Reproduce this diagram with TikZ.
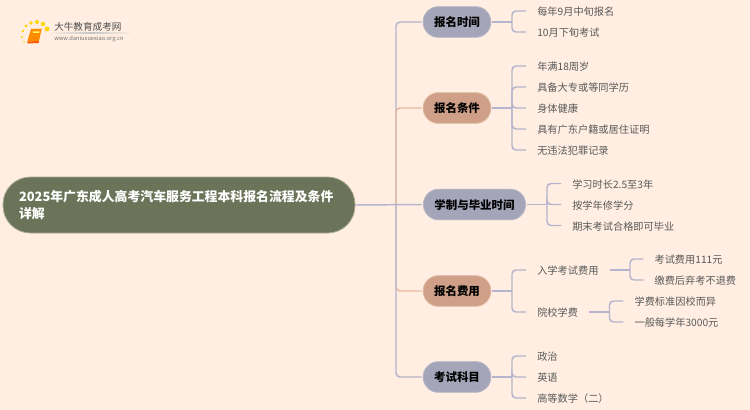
\documentclass[tikz,border=0pt]{standalone}
\usepackage{fontspec}
\setmainfont{Noto Sans CJK SC}
\usepackage{xcolor}
\definecolor{pagebg}{HTML}{FFEEE1}
\definecolor{rootfill}{HTML}{6B7359}
\definecolor{rootedge}{HTML}{A9AB92}
\definecolor{lavfill}{HTML}{A5A5B9}
\definecolor{lavedge}{HTML}{B6B6C6}
\definecolor{orgfill}{HTML}{CFA087}
\definecolor{orgedge}{HTML}{E0B8A2}
\definecolor{lavline}{HTML}{B4B5CD}
\definecolor{orgline}{HTML}{E6B9A0}
\definecolor{leaftext}{HTML}{595959}
\tikzset{
  rootbox/.style={draw=rootedge, fill=rootfill, line width=0.6pt, rounded corners=20.5pt, minimum width=264pt, minimum height=42pt, text width=240pt, align=left, inner sep=0pt, text=white, font=\fontsize{9.65pt}{12.75pt}\selectfont\bfseries},
  branchlav/.style={draw=lavedge, fill=lavfill, line width=0.6pt, rounded corners=11.4pt, minimum height=23pt, inner xsep=8.2pt, inner ysep=0pt, outer sep=1.2pt, text height=8.4pt, text depth=1.2pt, text=black, font=\fontsize{8.6pt}{11pt}\selectfont\bfseries},
  branchorg/.style={branchlav, draw=orgedge, fill=orgfill},
  leafbox/.style={anchor=west, inner xsep=8.25pt, inner ysep=1pt, text height=8pt, text depth=1pt, text=leaftext, font=\fontsize{7.65pt}{10pt}\selectfont},
  midbox/.style={leafbox},
  link/.style={draw=lavline, line width=1.1pt, rounded corners=3pt},
  linkorg/.style={draw=orgline, line width=1.1pt, rounded corners=3pt},
}

\begin{document}
\begin{tikzpicture}[x=0.75pt, y=-0.75pt]
\useasboundingbox (0,0) rectangle (750,410);
\fill[pagebg] (0,0) rectangle (750,410);

% logo
\fill[orange!90!yellow] (31,29) -- (41.7,29) -- (39,41) -- (27.3,41.5) -- cycle;
\fill[orange!70!red] (27.3,41.5) -- (39,41) -- (38.6,43) -- (27.5,43.5) -- cycle;
\fill[yellow!60!white] (33,31.5) -- (39.5,31.5) -- (39.2,33) -- (32.7,33) -- cycle;
\foreach \dotx/\doty/\dotr in {47/29/2.4, 43/24/2.2, 37/22/2, 31/23/1.8, 26/26/1.6, 23/31/1.3, 22/37/1.1, 24/42/0.9}
  \fill[yellow!75!orange] (\dotx,\doty) circle (\dotr);
\node[anchor=west, inner sep=0pt, text=black!70, font=\fontsize{7.2pt}{9pt}\selectfont] (logotext) at (54,27) {大牛教育成考网};
\node[anchor=west, inner sep=0pt, text=black!55, font=\fontsize{4.3pt}{6pt}\selectfont] (logourl) at (54,39) {www.daniuxuexiao.org.cn};
\shade[left color=pagebg, right color=pagebg, middle color=black!22] (50,33) rectangle (132,33.8);

% raiz
\node[rootbox] (root) at (179,205) {2025年广东成人高考汽车服务工程本科报名流程及条件\\详解};

% ramos
\node[branchlav] (time)  at (457,22)  {报名时间};
\node[branchorg] (cond)  at (457,108) {报名条件};
\node[branchlav] (study) at (474.5,204.5) {学制与毕业时间};
\node[branchorg] (fee)   at (457,291) {报名费用};
\node[branchlav] (exam)  at (457,377) {考试科目};

% tronco
\coordinate (trunk) at (396,204.5);
\draw[link] (trunk) |- (time.west);
\draw[linkorg] (trunk) |- (cond.west);
\draw[linkorg] (trunk) |- (fee.west);
\draw[link] (trunk) |- (exam.west);
\draw[link] (root.east) -- (study.west);

% folhas
\coordinate (forktime) at (512,22);
\draw[link] (time.east) -- (forktime);
\foreach \leafname/\leafy/\leaftxt in {ta/11/每年9月中旬报名, tb/32/10月下旬考试} {
  \node[leafbox] (\leafname) at (526,\leafy) {\leaftxt};
  \draw[link] (forktime) |- (\leafname.west);
}

\coordinate (forkcond) at (512,108);
\draw[link] (cond.east) -- (forkcond);
\foreach \leafname/\leafy/\leaftxt in {ca/66/年满18周岁, cb/87/具备大专或等同学历, cc/108/身体健康, cd/129/具有广东户籍或居住证明, ce/150/无违法犯罪记录} {
  \node[leafbox] (\leafname) at (526,\leafy) {\leaftxt};
  \draw[link] (forkcond) |- (\leafname.west);
}

\coordinate (forkstudy) at (547,204.5);
\draw[link] (study.east) -- (forkstudy);
\foreach \leafname/\leafy/\leaftxt in {sa/183.5/学习时长2.5至3年, sb/204.5/按学年修学分, sc/225.5/期末考试合格即可毕业} {
  \node[leafbox] (\leafname) at (561,\leafy) {\leaftxt};
  \draw[link] (forkstudy) |- (\leafname.west);
}

\coordinate (forkfee) at (512,291);
\draw[link] (fee.east) -- (forkfee);
\node[midbox] (entry) at (526,270) {入学考试费用};
\node[midbox] (school) at (526,312) {院校学费};
\draw[link] (forkfee) |- (entry.west);
\draw[link] (forkfee) |- (school.west);

\coordinate (forkentry) at (630,270);
\draw[link] (entry.east) -- (forkentry);
\foreach \leafname/\leafy/\leaftxt in {fa/259/考试费用111元, fb/280/缴费后弃考不退费} {
  \node[leafbox] (\leafname) at (643.3,\leafy) {\leaftxt};
  \draw[link] (forkentry) |- (\leafname.west);
}

\coordinate (forkschool) at (609.5,312);
\draw[link] (school.east) -- (forkschool);
\foreach \leafname/\leafy/\leaftxt in {fc/301/学费标准因校而异, fd/322/一般每学年3000元} {
  \node[leafbox] (\leafname) at (623.3,\leafy) {\leaftxt};
  \draw[link] (forkschool) |- (\leafname.west);
}

\coordinate (forkexam) at (512,377);
\draw[link] (exam.east) -- (forkexam);
\foreach \leafname/\leafy/\leaftxt in {ea/356/政治, eb/377/英语, ec/398/高等数学（二）} {
  \node[leafbox] (\leafname) at (526,\leafy) {\leaftxt};
  \draw[link] (forkexam) |- (\leafname.west);
}
\end{tikzpicture}
\end{document}
